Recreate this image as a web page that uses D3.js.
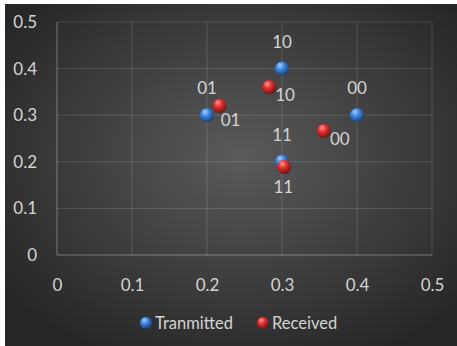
<!DOCTYPE html>
<html lang="en">
<head>
  <meta charset="UTF-8">
  <title>Constellation scatter</title>
  <script src="https://d3js.org/d3.v7.min.js"></script>
  <style>
    html, body { margin: 0; padding: 0; background: #fff; }
    svg { display: block; font-family: Lato, sans-serif; }
  </style>
</head>
<body>
  <div id="chart"></div>

  <script>
  // values
  const symbols = ['01', '10', '00', '11'];
  const txX = [0.2, 0.3, 0.4, 0.3];
  const txY = [0.3, 0.4, 0.3, 0.2];
  const rxX = [0.217, 0.283, 0.356, 0.303];
  const rxY = [0.32, 0.36, 0.266, 0.189];
  const rxLabelPos = ['belowRight', 'right', 'right', 'below'];
  const xTicks = [0, 0.1, 0.2, 0.3, 0.4, 0.5];
  const yTicks = [0, 0.1, 0.2, 0.3, 0.4, 0.5];
  const seriesNames = ['Tranmitted', 'Received'];

  const W = 457, H = 346;
  const margin = { left: 57, right: 25, top: 22, bottom: 91 };

  const svg = d3.select('#chart').append('svg')
    .attr('width', W).attr('height', H);

  const defs = svg.append('defs');
  const bg = defs.append('radialGradient').attr('id', 'bg')
    .attr('cx', '52%').attr('cy', '45%').attr('r', '65%');
  bg.append('stop').attr('offset', '0%').attr('stop-color', '#5a5a5a');
  bg.append('stop').attr('offset', '100%').attr('stop-color', '#262626');

  function sphere(id, light, mid, dark) {
    const g = defs.append('radialGradient').attr('id', id)
      .attr('cx', '40%').attr('cy', '35%').attr('r', '65%')
      .attr('fx', '35%').attr('fy', '25%');
    g.append('stop').attr('offset', '0%').attr('stop-color', light);
    g.append('stop').attr('offset', '45%').attr('stop-color', mid);
    g.append('stop').attr('offset', '100%').attr('stop-color', dark);
  }
  sphere('blueBall', '#a9ccff', '#3f86e0', '#15407f');
  sphere('redBall', '#ff9a9a', '#e03030', '#7a0f0f');

  // white frame on the left and top, like the cropped screenshot
  svg.append('rect').attr('x', 5).attr('y', 4)
    .attr('width', W - 5).attr('height', H - 4)
    .attr('fill', 'url(#bg)');

  const x = d3.scaleLinear().domain([0, 0.5]).range([margin.left, W - margin.right]);
  const y = d3.scaleLinear().domain([0, 0.5]).range([H - margin.bottom, margin.top]);

  // grid
  const grid = svg.append('g');
  grid.selectAll('.gx').data(xTicks).enter().append('line')
    .attr('x1', d => x(d)).attr('x2', d => x(d))
    .attr('y1', y(0)).attr('y2', y(0.5))
    .attr('stroke', d => d === 0 ? 'rgba(255,255,255,0.35)' : 'rgba(255,255,255,0.14)')
    .attr('stroke-width', 1);
  grid.selectAll('.gy').data(yTicks).enter().append('line')
    .attr('y1', d => y(d)).attr('y2', d => y(d))
    .attr('x1', x(0)).attr('x2', x(0.5))
    .attr('stroke', d => d === 0 ? 'rgba(255,255,255,0.35)' : 'rgba(255,255,255,0.14)')
    .attr('stroke-width', 1);

  const fmt = d => d === 0 ? '0' : d3.format('.1f')(d);

  // axes (labels only)
  const xAxis = svg.append('g').attr('transform', `translate(0,${y(0) + 27})`)
    .call(d3.axisBottom(x).tickValues(xTicks).tickFormat(fmt).tickSize(0));
  const yAxis = svg.append('g').attr('transform', `translate(${x(0) - 17},0)`)
    .call(d3.axisLeft(y).tickValues(yTicks).tickFormat(fmt).tickSize(0));
  [xAxis, yAxis].forEach(a => {
    a.select('.domain').remove();
    a.selectAll('text').attr('fill', '#d4d4d4').attr('font-size', 17)
      .attr('font-family', 'Lato, sans-serif');
  });
  xAxis.selectAll('text').attr('dy', '0.35em');

  const tx = symbols.map((s, i) => ({ s, x: txX[i], y: txY[i] }));
  const rx = symbols.map((s, i) => ({ s, x: rxX[i], y: rxY[i], pos: rxLabelPos[i] }));

  const labelStyle = sel => sel.attr('fill', '#d4d4d4').attr('font-size', 17);

  // transmitted
  svg.append('g').selectAll('circle').data(tx).enter().append('circle')
    .attr('cx', d => x(d.x)).attr('cy', d => y(d.y)).attr('r', 7)
    .attr('fill', 'url(#blueBall)');
  svg.append('g').selectAll('text').data(tx).enter().append('text')
    .attr('x', d => x(d.x)).attr('y', d => y(d.y) - 21)
    .attr('text-anchor', 'middle').text(d => d.s).call(labelStyle);

  // received
  svg.append('g').selectAll('circle').data(rx).enter().append('circle')
    .attr('cx', d => x(d.x)).attr('cy', d => y(d.y)).attr('r', 7)
    .attr('fill', 'url(#redBall)');
  const place = {
    right: { dx: 6, dy: 14, anchor: 'start' },
    belowRight: { dx: 1, dy: 20, anchor: 'start' },
    below: { dx: -1, dy: 26, anchor: 'middle' }
  };
  svg.append('g').selectAll('text').data(rx).enter().append('text')
    .attr('x', d => x(d.x) + place[d.pos].dx)
    .attr('y', d => y(d.y) + place[d.pos].dy)
    .attr('text-anchor', d => place[d.pos].anchor)
    .text(d => d.s).call(labelStyle);

  // legend
  const legend = svg.append('g').attr('transform', 'translate(0,323)');
  const legX = [146, 263];
  seriesNames.forEach((name, i) => {
    legend.append('circle').attr('cx', legX[i]).attr('cy', 0).attr('r', 6)
      .attr('fill', i === 0 ? 'url(#blueBall)' : 'url(#redBall)');
    legend.append('text').attr('x', legX[i] + 9).attr('y', 0).attr('dy', '0.35em')
      .attr('font-size', 16.5).attr('fill', '#d4d4d4').text(name);
  });
  </script>
</body>
</html>
